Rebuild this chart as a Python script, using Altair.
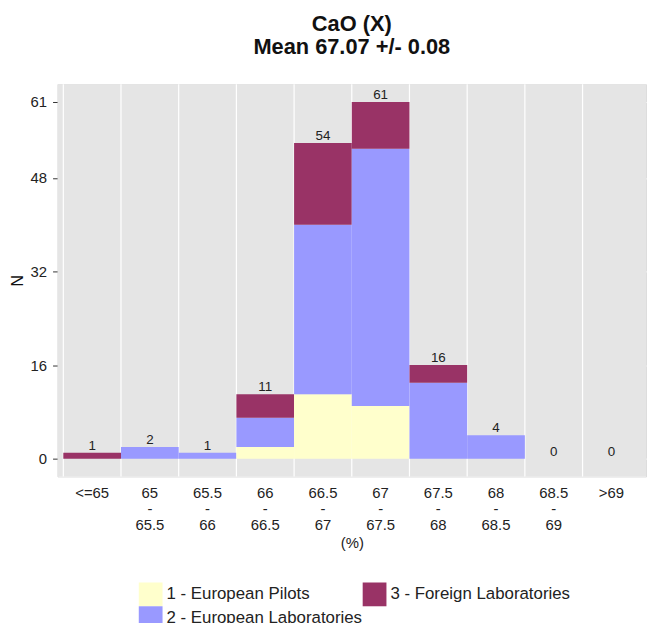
import altair as alt
import pandas as pd

bins = ["<=65", "65|-|65.5", "65.5|-|66", "66|-|66.5", "66.5|-|67",
        "67|-|67.5", "67.5|-|68", "68|-|68.5", "68.5|-|69", ">69"]
pilots = [0, 0, 0, 2, 11, 9, 0, 0, 0, 0]
eu_labs = [0, 2, 1, 5, 29, 44, 13, 4, 0, 0]
foreign = [1, 0, 0, 4, 14, 8, 3, 0, 0, 0]
groups = ["1 - European Pilots", "2 - European Laboratories", "3 - Foreign Laboratories"]
colors = ["#FFFFCC", "#9999FF", "#993366"]
y_ticks = [0, 16, 32, 48, 61]

rows = []
for i, b in enumerate(bins):
    for k, (g, vals) in enumerate(zip(groups, [pilots, eu_labs, foreign])):
        rows.append({"bin": b, "group": g, "n": vals[i], "rank": k + 1})
df = pd.DataFrame(rows)
totals = pd.DataFrame({"bin": bins, "total": [p + e + f for p, e, f in zip(pilots, eu_labs, foreign)]})

W, H = 594, 396
xscale = alt.Scale(domain=bins, paddingInner=0, paddingOuter=0.1)
yscale = alt.Scale(domain=[-3.05, 64.05], nice=False, zero=False)
xaxis = alt.Axis(title="(%)", labelAngle=0, ticks=False, grid=False, domain=False,
                 labelAlign="center",
                 labelExpr="split(datum.value, '|')", labelLineHeight=16.5,
                 labelPadding=9, titlePadding=3, labelFontSize=15,
                 labelColor="#222", titleFontSize=15, titleFontWeight="normal",
                 titleColor="#222", labelBaseline="top")

panel = alt.Chart(pd.DataFrame({"a": [0]})).mark_rect(color="#E5E5E5").encode(
    x=alt.value(0), x2=alt.value(W), y=alt.value(0), y2=alt.value(H)
)

half_step = W / 10.2 / 2
grid = alt.Chart(pd.DataFrame({"bin": bins})).mark_rule(
    color="white", strokeWidth=1.2, xOffset=-half_step).encode(
    x=alt.X("bin:N", scale=xscale, sort=bins, axis=xaxis)
)

bars = alt.Chart(df).mark_bar().encode(
    x=alt.X("bin:N", scale=xscale, sort=bins, axis=xaxis),
    y=alt.Y("sum(n):Q", scale=yscale, stack="zero",
            axis=alt.Axis(title="N", values=y_ticks, tickSize=5, tickColor="#333",
                          domain=False, labelFontSize=15, labelColor="#222",
                          labelPadding=6, titlePadding=5, titleFontSize=16,
                          titleColor="#111",
                          titleFontWeight="normal", gridColor="white", gridWidth=1.2)),
    color=alt.Color("group:N",
                    scale=alt.Scale(domain=[groups[0], groups[2], groups[1]],
                                    range=[colors[0], colors[2], colors[1]]),
                    legend=alt.Legend(title=None, orient="none", legendX=82, legendY=503,
                                      columns=2, direction="horizontal",
                                      symbolType="square", symbolSize=576,
                                      symbolStrokeWidth=0, symbolOpacity=1,
                                      labelFontSize=17, labelColor="#222", labelLimit=400,
                                      labelOffset=4, rowPadding=-1, columnPadding=-5)),
    order=alt.Order("rank:Q", sort="ascending"),
)

labels = alt.Chart(totals).mark_text(baseline="alphabetic", dy=-3, fontSize=13.5, color="#222",
                                     font="Liberation Sans").encode(
    x=alt.X("bin:N", scale=xscale, sort=bins, axis=xaxis),
    y=alt.Y("total:Q", scale=yscale),
    text="total:Q",
)

chart = alt.layer(panel, grid, bars, labels).properties(
    width=W, height=H,
    padding={"left": 50, "top": 74, "right": 2, "bottom": 145},
    autosize=alt.AutoSizeParams(type="none"),
    title=alt.Title(["CaO (X)", "Mean 67.07 +/- 0.08"], fontSize=22, fontWeight="bold",
                    anchor="middle", offset=25, lineHeight=23, color="#111"),
).configure_view(stroke=None).configure(
    font="Liberation Sans"
)

chart.save("out.html", embed_options={"renderer": "svg", "actions": False})
